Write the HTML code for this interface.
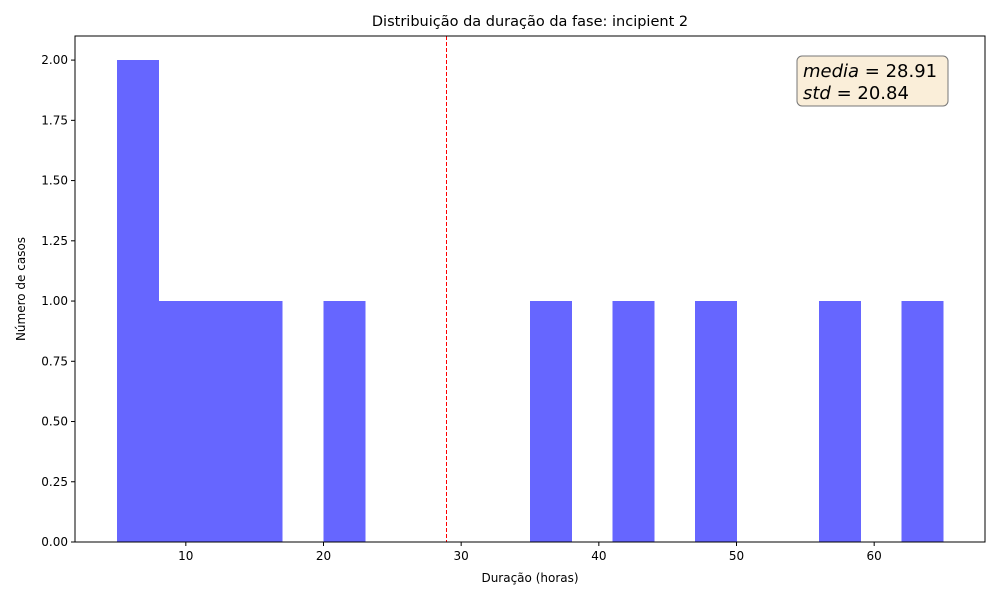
<!DOCTYPE html>
<html><head><meta charset="utf-8"><style>
body{margin:0;background:#fff;font-family:"Liberation Sans","DejaVu Sans",sans-serif;}
svg text{font-family:"DejaVu Sans","Liberation Sans",sans-serif;}
</style></head><body>
<svg id="chart" width="1000" height="600" xmlns="http://www.w3.org/2000/svg">
<rect width="1000" height="600" fill="#fff"/>
<text x="530" y="26" font-size="14.5" text-anchor="middle">Distribuição da duração da fase: incipient 2</text>
<g id="bars" shape-rendering="crispEdges"></g>
<g id="xticks"></g>
<g id="yticks"></g>
<line id="meanline" y1="36" y2="542" stroke="#ff0000" stroke-width="1" stroke-dasharray="4,2"/>
<rect x="75" y="36" width="910" height="506" fill="none" stroke="#000" stroke-width="1"/>
<text x="530" y="582" font-size="12" text-anchor="middle">Duração (horas)</text>
<text transform="translate(25,289) rotate(-90)" font-size="12" text-anchor="middle">Número de casos</text>
<g>
<rect x="797" y="56" width="151" height="50" rx="5" fill="#f5deb3" fill-opacity="0.5" stroke="#777" stroke-width="1"/>
<text x="803" y="77" font-size="18"><tspan font-style="italic">media</tspan> = 28.91</text>
<text x="803" y="99" font-size="18"><tspan font-style="italic">std</tspan> = 20.84</text>
</g>
</svg>
<script>
const binStarts=[5,8,11,14,17,20,23,26,29,32,35,38,41,44,47,50,53,56,59,62];
const counts=[2,1,1,1,0,1,0,0,0,0,1,0,1,0,1,0,0,1,0,1];
const binWidth=3;
const xTicks=[10,20,30,40,50,60];
const yTicks=[0,0.25,0.5,0.75,1.0,1.25,1.5,1.75,2.0];
const meanValue=28.91;
const NS="http://www.w3.org/2000/svg";
const X0=75,X1=985,Y0=542,Y1=36,xmin=1.95,xmax=68.05,ymax=2.1;
const sx=v=>X0+(v-xmin)/(xmax-xmin)*(X1-X0);
const sy=v=>Y0-v/ymax*(Y0-Y1);
const bars=document.getElementById('bars');
binStarts.forEach((b,i)=>{if(!counts[i])return;
const r=document.createElementNS(NS,'rect');
r.setAttribute('x',sx(b));r.setAttribute('width',sx(b+binWidth)-sx(b)+0.5);
r.setAttribute('y',sy(counts[i]));r.setAttribute('height',Y0-sy(counts[i]));
r.setAttribute('fill','#6666ff');


bars.appendChild(r);});
const xt=document.getElementById('xticks');
xTicks.forEach(t=>{const x=sx(t);
const l=document.createElementNS(NS,'line');l.setAttribute('x1',x);l.setAttribute('x2',x);l.setAttribute('y1',Y0);l.setAttribute('y2',Y0+4);l.setAttribute('stroke','#000');xt.appendChild(l);
const tx=document.createElementNS(NS,'text');tx.setAttribute('x',x);tx.setAttribute('y',Y0+18);tx.setAttribute('font-size','12');tx.setAttribute('text-anchor','middle');tx.textContent=t;


xt.appendChild(tx);});
const yt=document.getElementById('yticks');
yTicks.forEach(t=>{const y=sy(t);
const l=document.createElementNS(NS,'line');l.setAttribute('x1',X0-4);l.setAttribute('x2',X0);l.setAttribute('y1',y);l.setAttribute('y2',y);l.setAttribute('stroke','#000');yt.appendChild(l);
const tx=document.createElementNS(NS,'text');tx.setAttribute('x',X0-7);tx.setAttribute('y',y+4);tx.setAttribute('font-size','12');tx.setAttribute('text-anchor','end');tx.textContent=t.toFixed(2);


yt.appendChild(tx);});
const m=document.getElementById('meanline');const mx=Math.round(sx(meanValue))+0.5;m.setAttribute('x1',mx);m.setAttribute('x2',mx);
</script>
</body></html>
